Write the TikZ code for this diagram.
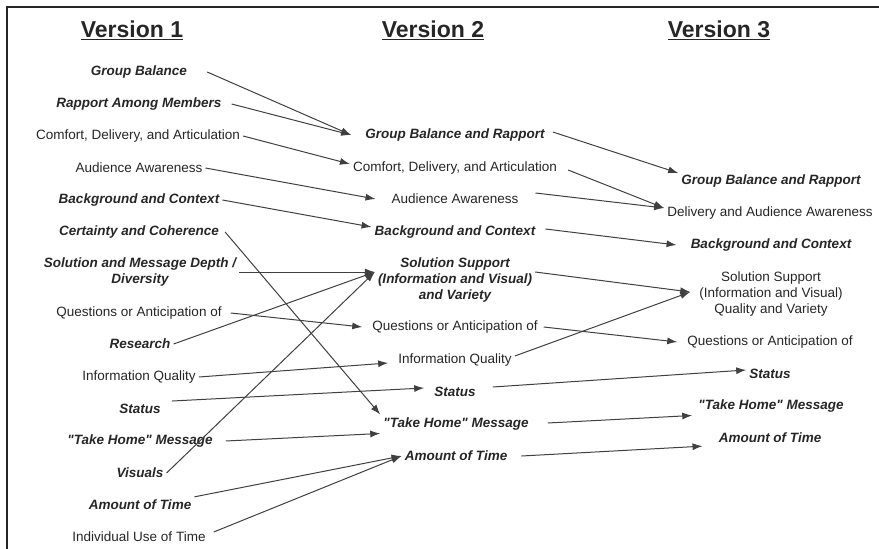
\documentclass[tikz,border=0pt]{standalone}
\usepackage{fontspec}
\setmainfont{Liberation Sans}[Ligatures=TeXOff]
\usetikzlibrary{arrows.meta}
\colorlet{linegray}{black!75}
\colorlet{textgray}{black!85}

\begin{document}
\begin{tikzpicture}[x=1pt, y=-1pt,
    item/.style={font=\fontsize{13.5}{16}\selectfont, text=textgray, inner sep=3pt, align=center},
    key/.style={item, font=\fontsize{13.5}{16}\selectfont\bfseries\itshape},
    title/.style={font=\fontsize{23}{27}\selectfont\bfseries, text=textgray},
    link/.style={draw=linegray, line width=1pt, -{Latex[length=10pt,width=7pt]}}]
    \useasboundingbox (0,0) rectangle (879,549);
    % frame
    \draw[line width=2pt, textgray] (879,7) -- (7,7) -- (7,549);
    % titles
    \node[title] (title-v1) at (132,30) {\underline{Version 1}};
    \node[title] (title-v2) at (433,30) {\underline{Version 2}};
    \node[title] (title-v3) at (719,30) {\underline{Version 3}};
    % version 1
    \node[key]  (v1-group-balance) at (139,72)  {Group Balance};
    \node[key]  (v1-rapport)       at (139,104) {Rapport Among Members};
    \node[item] (v1-comfort)       at (138,136) {Comfort, Delivery, and Articulation};
    \node[item] (v1-audience)      at (139,168) {Audience Awareness};
    \node[key]  (v1-background)    at (139,200) {Background and Context};
    \node[key]  (v1-certainty)     at (139,232) {Certainty and Coherence};
    \node[key]  (v1-depth)         at (140,272) {Solution and Message Depth /\\Diversity};
    \node[item] (v1-questions)     at (139,313) {Questions or Anticipation of};
    \node[key]  (v1-research)      at (140,344) {Research};
    \node[item] (v1-info-quality)  at (139,377) {Information Quality};
    \node[key]  (v1-status)        at (140,409) {Status};
    \node[key]  (v1-take-home)     at (140,441) {"Take Home" Message};
    \node[key]  (v1-visuals)       at (140,473) {Visuals};
    \node[key]  (v1-amount)        at (140,505) {Amount of Time};
    \node[item] (v1-individual)    at (139,537) {Individual Use of Time};
    % version 2
    \node[key]  (v2-group-rapport) at (455,135) {Group Balance and Rapport};
    \node[item] (v2-comfort)       at (455,168) {Comfort, Delivery, and Articulation};
    \node[item] (v2-audience)      at (455,199) {Audience Awareness};
    \node[key]  (v2-background)    at (455,232) {Background and Context};
    \node[key]  (v2-support)       at (455,280) {Solution Support\\(Information and Visual)\\and Variety};
    \node[item] (v2-questions)     at (455,327) {Questions or Anticipation of};
    \node[item] (v2-info-quality)  at (455,360) {Information Quality};
    \node[key]  (v2-status)        at (455,392) {Status};
    \node[key]  (v2-take-home)     at (456,424) {"Take Home" Message};
    \node[key]  (v2-amount)        at (456,456) {Amount of Time};
    % version 3
    \node[key]  (v3-group-rapport) at (771,181) {Group Balance and Rapport};
    \node[item] (v3-delivery)      at (770,213) {Delivery and Audience Awareness};
    \node[key]  (v3-background)    at (771,245) {Background and Context};
    \node[item] (v3-support)       at (771,294) {Solution Support\\(Information and Visual)\\Quality and Variety};
    \node[item] (v3-questions)     at (770,342) {Questions or Anticipation of};
    \node[key]  (v3-status)        at (770,374) {Status};
    \node[key]  (v3-take-home)     at (771,406) {"Take Home" Message};
    \node[key]  (v3-amount)        at (770,438) {Amount of Time};
    % links version 1 -> version 2
    \draw[link] ([xshift=17pt]v1-group-balance.east) -- ([xshift=-11pt]v2-group-rapport.west);
    \draw[link] ([xshift=7pt]v1-rapport.east) -- ([xshift=-11pt]v2-group-rapport.west);
    \draw[link] (v1-comfort.east) -- ([yshift=4pt]v2-comfort.west);
    \draw[link] (v1-audience.east) -- ([xshift=-13pt]v2-audience.west);
    \draw[link] (v1-background.east) -- ([yshift=5pt]v2-background.west);
    \draw[link] ([xshift=3pt]v1-certainty.east) -- (v2-take-home.north west);
    \draw[link] (v1-depth.east) -- ([yshift=8pt]v2-support.west);
    \draw[link] ([xshift=6pt]v1-questions.east) -- ([xshift=-7pt]v2-questions.west);
    \draw[link] (v1-research.east) -- ([yshift=8pt]v2-support.west);
    \draw[link] (v1-info-quality.east) -- ([xshift=-7pt,yshift=-3pt]v2-info-quality.west);
    \draw[link] ([xshift=8pt]v1-status.north east) -- ([xshift=-7pt,yshift=4pt]v2-status.west);
    \draw[link] ([xshift=10pt]v1-take-home.east) -- (v2-take-home.south west);
    \draw[link] (v1-visuals.east) -- ([yshift=8pt]v2-support.west);
    \draw[link] (v1-amount.north east) -- (v2-amount.west);
    \draw[link] ([xshift=5pt,yshift=5pt]v1-individual.east) -- (v2-amount.west);
    % links version 2 -> version 3
    \draw[link] ([xshift=5pt,yshift=3pt]v2-group-rapport.east) -- ([yshift=8pt]v3-group-rapport.west);
    \draw[link] ([xshift=8pt,yshift=-2pt]v2-comfort.east) -- ([yshift=5pt]v3-delivery.west);
    \draw[link] ([xshift=14pt,yshift=6pt]v2-audience.east) -- ([yshift=5pt]v3-delivery.west);
    \draw[link] ([xshift=7pt,yshift=3pt]v2-background.east) -- ([xshift=-11pt]v3-background.west);
    \draw[link] ([yshift=8pt]v2-support.east) -- ([xshift=-6pt,yshift=2pt]v3-support.west);
    \draw[link] ([yshift=4pt]v2-info-quality.east) -- ([xshift=-6pt,yshift=2pt]v3-support.west);
    \draw[link] ([xshift=3pt]v2-questions.east) -- ([xshift=-7pt]v3-questions.west);
    \draw[link] ([xshift=14pt,yshift=5pt]v2-status.east) -- ([yshift=4pt]v3-status.west);
    \draw[link] ([xshift=16pt,yshift=1pt]v2-take-home.east) -- ([xshift=-3pt]v3-take-home.south west);
    \draw[link] ([xshift=11pt]v2-amount.east) -- ([xshift=-13pt]v3-amount.south west);
\end{tikzpicture}
\end{document}
